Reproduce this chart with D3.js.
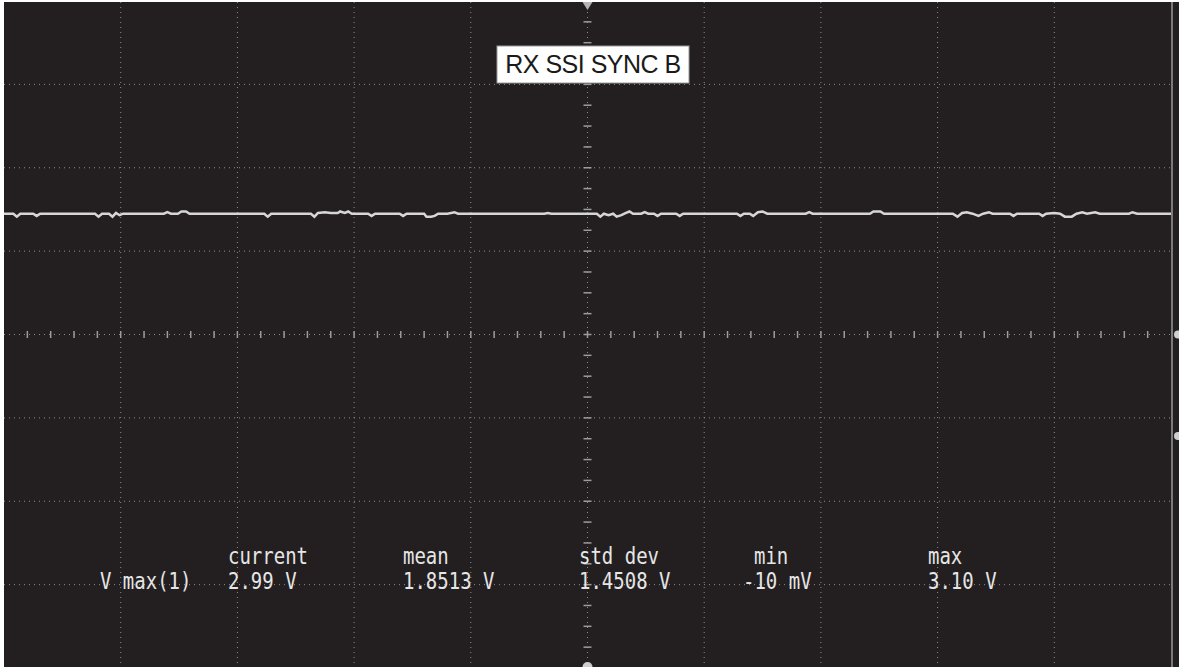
<!DOCTYPE html>
<html>
<head>
	<script src="https://d3js.org/d3.v7.min.js"></script>
</head>
<body style="margin:0;background:#fff;">
<style>

.grid line {
	stroke: #8c8c8c;
	stroke-width: 1px;
	stroke-dasharray: 1,4;
}

.stats text {
	font-family: "DejaVu Sans Mono", monospace;
	font-size: 19px;
	fill: #e6e6e6;
}

</style>
<svg width="1179" height="667"></svg>
<script>

// trace points: time (div) and level (V)
var traceT = [0, 0.08, 0.11, 0.14, 0.25, 0.28, 0.31, 0.78, 0.81, 0.84, 0.90, 0.93, 0.96, 0.99, 1.02,
	1.37, 1.40, 1.43, 1.49, 1.52, 1.56, 1.59, 2.23, 2.26, 2.29,
	2.63, 2.66, 2.69, 2.75, 2.80, 2.86, 2.88, 2.92, 2.95, 2.98,
	3.12, 3.15, 3.18, 3.39, 3.42, 3.45, 3.60, 3.62, 3.66, 3.69, 3.72, 3.80, 3.86, 3.89,
	4.63, 4.66, 4.69, 5.08, 5.11, 5.14, 5.18, 5.22, 5.25, 5.29, 5.33, 5.36, 5.39,
	5.46, 5.49, 5.52, 5.57, 5.60, 5.63, 5.76, 5.79, 5.82,
	6.28, 6.31, 6.34, 6.39, 6.42, 6.46, 6.50, 6.54, 6.87, 6.90, 6.93,
	7.42, 7.45, 7.51, 7.54,
	8.13, 8.17, 8.21, 8.25, 8.30, 8.35, 8.39, 8.44, 8.47, 8.62, 8.65, 8.68,
	8.87, 8.90, 8.93, 9.00, 9.05, 9.09, 9.15, 9.19, 9.24, 9.28, 9.35, 9.39,
	9.64, 9.67, 9.71, 10];
var traceV = [3.00, 3.00, 2.96, 3.00, 3.00, 2.97, 3.00, 3.00, 2.96, 3.00, 3.00, 2.96, 3.01, 2.98, 3.00,
	3.00, 3.02, 3.00, 3.00, 3.03, 3.03, 3.00, 3.00, 2.96, 3.00,
	3.00, 2.96, 3.01, 3.02, 3.01, 3.01, 3.03, 3.01, 3.03, 3.00,
	3.00, 2.97, 3.00, 3.00, 2.97, 3.00, 3.00, 2.96, 2.96, 2.97, 3.00, 3.00, 3.02, 3.00,
	3.00, 3.01, 3.00, 3.00, 2.96, 3.00, 2.98, 3.00, 2.96, 2.98, 3.01, 3.03, 3.00,
	3.00, 3.02, 3.00, 3.00, 2.97, 3.00, 3.00, 2.97, 3.00,
	3.00, 2.97, 3.00, 3.00, 2.97, 3.02, 3.03, 3.00, 3.00, 3.02, 3.00,
	3.00, 3.03, 3.03, 3.00,
	3.00, 2.96, 3.01, 3.02, 3.00, 2.97, 3.00, 3.02, 3.00, 3.00, 2.97, 3.00,
	3.00, 2.97, 3.00, 3.01, 3.00, 2.96, 2.96, 3.00, 3.02, 3.00, 3.02, 3.00,
	3.00, 3.02, 3.00, 3.00];

var channelLabel = "RX SSI SYNC B";
var rowLabel = "V max(1)";
var statNames = ["current", "mean", "std dev", "min", "max"];
var statValues = ["2.99 V", "1.8513 V", "1.4508 V", "-10 mV", "3.10 V"];
var groundLevel = 0;

var svg = d3.select("svg"),
	width = +svg.attr("width"),
	height = +svg.attr("height");

var gLeft = 4, gRight = 1171, gTop = 1, gBottom = 668;

var x = d3.scaleLinear().domain([0, 10]).range([gLeft, gRight]);
var yDiv = d3.scaleLinear().domain([0, 8]).range([gBottom, gTop]);
var y = d3.scaleLinear().domain([-3.13, 5.87]).range([gBottom, gTop]);

// screen background
svg.append("rect")
	.attr("x", gLeft)
	.attr("y", 2)
	.attr("width", width - gLeft)
	.attr("height", height - 2)
	.attr("fill", "#231f20");

var grid = svg.append("g").attr("class", "grid");

grid.selectAll(".v")
	.data(d3.range(1, 10))
	.enter().append("line")
	.attr("x1", function(d) { return x(d); })
	.attr("x2", function(d) { return x(d); })
	.attr("y1", 2)
	.attr("y2", height);

grid.selectAll(".h")
	.data(d3.range(1, 8))
	.enter().append("line")
	.attr("x1", gLeft)
	.attr("x2", gRight)
	.attr("y1", function(d) { return yDiv(d); })
	.attr("y2", function(d) { return yDiv(d); });

// minor ticks on the centre axes
var ticks = svg.append("g")
	.attr("stroke", "#9c9c9c")
	.attr("stroke-width", 1.5);

ticks.selectAll(".hx")
	.data(d3.range(1, 50))
	.enter().append("line")
	.attr("x1", function(d) { return x(d / 5); })
	.attr("x2", function(d) { return x(d / 5); })
	.attr("y1", yDiv(4) - 3.5)
	.attr("y2", yDiv(4) + 3.5);

ticks.selectAll(".vy")
	.data(d3.range(1, 32))
	.enter().append("line")
	.attr("x1", x(5) - 4)
	.attr("x2", x(5) + 4)
	.attr("y1", function(d) { return yDiv(d / 4); })
	.attr("y2", function(d) { return yDiv(d / 4); });

// right edge of graticule
svg.append("line")
	.attr("x1", gRight + 1)
	.attr("x2", gRight + 1)
	.attr("y1", 2)
	.attr("y2", height)
	.attr("stroke", "#9a9a9a")
	.attr("stroke-width", 1.5);

// level markers
svg.append("circle")
	.attr("cx", gRight + 7)
	.attr("cy", yDiv(4))
	.attr("r", 4)
	.attr("fill", "#d0d0d0");
svg.append("circle")
	.attr("cx", gRight + 7)
	.attr("cy", y(groundLevel))
	.attr("r", 4)
	.attr("fill", "#d0d0d0");

// trigger markers
svg.append("path")
	.attr("d", "M" + (x(5) - 5) + ",2L" + (x(5) + 5) + ",2L" + x(5) + ",10Z")
	.attr("fill", "#b4b4b4");
svg.append("circle")
	.attr("cx", x(5))
	.attr("cy", height)
	.attr("r", 5)
	.attr("fill", "#cfcfcf");

// trace
var trace = traceT.map(function(t, i) { return [t, traceV[i]]; });
var line = d3.line()
	.x(function(d) { return x(d[0]); })
	.y(function(d) { return y(d[1]); });

svg.append("path")
	.datum(trace)
	.attr("d", line)
	.attr("fill", "none")
	.attr("stroke", "#d6d6d6")
	.attr("stroke-width", 2.5);

// channel label
svg.append("rect")
	.attr("x", 497)
	.attr("y", 46)
	.attr("width", 192)
	.attr("height", 37)
	.attr("fill", "#ffffff")
	.attr("stroke", "#9a9a9a")
	.attr("stroke-width", 1);
svg.append("text")
	.attr("x", 593)
	.attr("y", 73)
	.attr("text-anchor", "middle")
	.attr("font-family", "Liberation Sans, Arial, sans-serif")
	.attr("font-size", "25px")
	.attr("letter-spacing", "-0.5px")
	.attr("fill", "#1a1a1a")
	.text(channelLabel);

// measurement readout
var stats = svg.append("g").attr("class", "stats");
var statX = [228, 403, 579, 754, 928];
var valueX = [228, 403, 579, 743, 928];

function addText(tx, ty, s) {
	stats.append("text")
		.attr("transform", "translate(" + tx + "," + ty + ") scale(1,1.2)")
		.text(s);
}

addText(100, 589, rowLabel);
statNames.forEach(function(s, i) { addText(statX[i], 564, s); });
statValues.forEach(function(s, i) { addText(valueX[i], 589, s); });

</script>
</body>
</html>
